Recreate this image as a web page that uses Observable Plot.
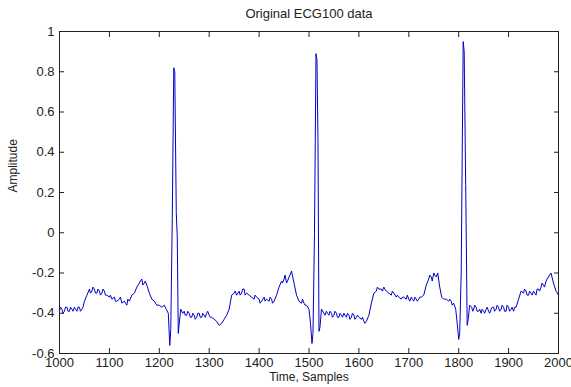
<!DOCTYPE html>
<html>
<head>
<meta charset="utf-8">
<script src="https://cdn.jsdelivr.net/npm/d3@7"></script>
<script src="https://cdn.jsdelivr.net/npm/@observablehq/plot@0.6"></script>
<style>
  html, body { margin: 0; padding: 0; background: #fff; }
  #chart svg { display: block; }
</style>
</head>
<body>
<div id="chart"></div>
<script>
const titleText = "Original ECG100 data";
const xLabel = "Time, Samples";
const yLabel = "Amplitude";
const xTicks = [1000, 1100, 1200, 1300, 1400, 1500, 1600, 1700, 1800, 1900, 2000];
const yTicks = [-0.6, -0.4, -0.2, 0, 0.2, 0.4, 0.6, 0.8, 1];

const samples = [
  1000,1005,1010,1015,1020,1025,1030,1035,1040,1045,1050,1055,1060,1065,1070,1075,1080,1085,1090,1095,
  1100,1105,1110,1115,1120,1125,1130,1135,1140,1145,1150,1155,1160,1165,1170,1175,1180,1185,1190,1195,
  1200,1205,1210,1214,1218,1221,1223,1226,1229,1231,1234,1236,1238,1240,1243,1247,1250,1255,1260,1265,
  1270,1275,1280,1285,1290,1295,1300,1305,1310,1315,1320,1325,1330,1335,1340,1345,1350,1355,1360,1365,
  1370,1375,1380,1385,1390,1395,1400,1405,1410,1415,1420,1425,1430,1435,1440,1445,1450,1455,1460,1465,
  1470,1475,1480,1485,1490,1495,1500,1503,1506,1508,1511,1514,1516,1518,1520,1522,1525,1530,1535,1540,
  1545,1550,1555,1560,1565,1570,1575,1580,1585,1590,1595,1600,1605,1610,1615,1620,1625,1630,1635,1640,
  1645,1650,1655,1660,1665,1670,1675,1680,1685,1690,1695,1700,1705,1710,1715,1720,1725,1730,1735,1740,
  1745,1750,1755,1758,1762,1766,1770,1775,1780,1785,1790,1794,1797,1800,1802,1805,1809,1811,1814,1817,
  1819,1822,1826,1830,1835,1840,1845,1850,1855,1860,1865,1870,1875,1880,1885,1890,1895,1900,1905,1910,
  1915,1920,1925,1930,1935,1940,1945,1950,1955,1960,1965,1970,1975,1980,1985,1990,1995,2000
];
const amplitude = [
  -0.39,-0.38,-0.39,-0.37,-0.39,-0.38,-0.37,-0.39,-0.37,-0.38,-0.34,-0.31,-0.28,-0.29,-0.28,-0.30,-0.29,-0.30,-0.29,-0.31,
  -0.32,-0.33,-0.32,-0.34,-0.33,-0.35,-0.34,-0.36,-0.34,-0.31,-0.30,-0.27,-0.25,-0.23,-0.25,-0.26,-0.30,-0.33,-0.34,-0.36,
  -0.36,-0.37,-0.36,-0.38,-0.40,-0.56,-0.48,0.07,0.82,0.80,0.10,-0.02,-0.50,-0.45,-0.38,-0.40,-0.39,-0.41,-0.40,-0.42,
  -0.41,-0.42,-0.40,-0.42,-0.41,-0.40,-0.41,-0.42,-0.43,-0.44,-0.46,-0.45,-0.43,-0.41,-0.38,-0.31,-0.30,-0.31,-0.29,-0.30,
  -0.28,-0.30,-0.31,-0.32,-0.33,-0.32,-0.33,-0.34,-0.32,-0.33,-0.34,-0.33,-0.34,-0.31,-0.27,-0.24,-0.23,-0.25,-0.22,-0.19,
  -0.25,-0.31,-0.34,-0.35,-0.35,-0.36,-0.38,-0.45,-0.55,-0.50,0.00,0.89,0.86,0.46,-0.49,-0.47,-0.38,-0.40,-0.39,-0.41,
  -0.40,-0.41,-0.40,-0.42,-0.41,-0.40,-0.42,-0.41,-0.42,-0.41,-0.42,-0.42,-0.43,-0.44,-0.44,-0.41,-0.35,-0.30,-0.29,-0.28,
  -0.28,-0.27,-0.29,-0.30,-0.31,-0.30,-0.32,-0.32,-0.33,-0.32,-0.33,-0.33,-0.32,-0.34,-0.33,-0.33,-0.32,-0.31,-0.26,-0.23,
  -0.22,-0.20,-0.22,-0.20,-0.27,-0.32,-0.33,-0.33,-0.34,-0.34,-0.35,-0.38,-0.45,-0.53,-0.50,-0.20,0.95,0.90,0.24,-0.46,
  -0.43,-0.36,-0.37,-0.38,-0.37,-0.39,-0.40,-0.39,-0.38,-0.39,-0.38,-0.37,-0.38,-0.37,-0.38,-0.37,-0.39,-0.37,-0.38,-0.39,
  -0.37,-0.33,-0.29,-0.30,-0.29,-0.31,-0.30,-0.29,-0.31,-0.28,-0.27,-0.26,-0.24,-0.22,-0.20,-0.25,-0.29,-0.31
];

// extra in-between readings of the jagged baseline
const detailSamples = [
  1002,1007,1012,1017,1022,1027,1032,1037,1042,1047,
  1062,1067,1072,1077,1082,1087,1092,
  1102,1112,1122,1132,1137,
  1162,1167,1172,
  1252,1257,1262,1267,1272,1277,1282,1287,1292,1297,1302,
  1352,1362,1367,1372,1392,1402,1412,1422,1427,
  1447,1452,1457,1462,1487,1492,
  1532,1537,1542,1547,1552,1557,1562,1567,1572,1577,1582,1587,1592,1597,1607,1612,
  1637,1647,1652,1667,1677,1687,1697,1702,1707,1712,1717,1722,
  1742,1747,1752,1782,1787,
  1828,1832,1837,1842,1847,1852,1857,1862,1867,1872,1877,1882,1887,1892,1897,1902,1907,1912,
  1932,1937,1942,1947,1952,1957,1962,1967,1972,1977,1982
];
const detailValues = [
  -0.37,-0.40,-0.37,-0.39,-0.37,-0.39,-0.38,-0.37,-0.39,-0.37,
  -0.30,-0.27,-0.30,-0.28,-0.31,-0.28,-0.31,
  -0.31,-0.34,-0.32,-0.35,-0.33,
  -0.24,-0.26,-0.24,
  -0.41,-0.39,-0.42,-0.40,-0.43,-0.40,-0.42,-0.40,-0.42,-0.39,-0.42,
  -0.29,-0.31,-0.28,-0.31,-0.31,-0.35,-0.34,-0.32,-0.35,
  -0.25,-0.21,-0.24,-0.21,-0.33,-0.36,
  -0.41,-0.40,-0.39,-0.42,-0.39,-0.42,-0.40,-0.42,-0.41,-0.40,-0.43,-0.40,-0.43,-0.41,-0.42,-0.45,
  -0.27,-0.29,-0.28,-0.29,-0.31,-0.32,-0.31,-0.34,-0.33,-0.32,-0.34,-0.32,
  -0.21,-0.24,-0.21,-0.33,-0.36,
  -0.39,-0.36,-0.39,-0.38,-0.38,-0.40,-0.37,-0.40,-0.37,-0.39,-0.36,-0.39,-0.36,-0.39,-0.36,-0.39,-0.37,-0.37,
  -0.28,-0.31,-0.29,-0.31,-0.30,-0.28,-0.29,-0.25,-0.27,-0.23,-0.21
];

const data = d3.sort(
  samples.map((s, i) => ({sample: s, value: amplitude[i]}))
    .concat(detailSamples.map((s, i) => ({sample: s, value: detailValues[i]}))),
  d => d.sample
);
const fmtY = d => String(+(+d).toFixed(1));

const chart = Plot.plot({
  width: 571,
  height: 387,
  marginLeft: 59,
  marginRight: 13,
  marginTop: 31,
  marginBottom: 34,
  style: {fontFamily: "Liberation Sans, Arial, sans-serif", fontSize: "13px", color: "#222", background: "#fff", overflow: "visible"},
  x: {domain: [1000, 2000]},
  y: {domain: [-0.6, 1]},
  marks: [
    Plot.line(data, {x: "sample", y: "value", stroke: "#0000c8", strokeWidth: 1}),
    Plot.frame({stroke: "#222", strokeWidth: 1}),
    Plot.axisX(xTicks, {anchor: "bottom", tickSize: -5, tickPadding: 9, label: null, tickFormat: d => String(d), fill: "#222", stroke: "#222"}),
    Plot.axisX(xTicks, {anchor: "top", tickSize: -5, label: null, tickFormat: () => "", stroke: "#222"}),
    Plot.axisY(yTicks, {anchor: "left", tickSize: -5, tickPadding: 10, label: null, tickFormat: fmtY, fill: "#222", stroke: "#222"}),
    Plot.axisY(yTicks, {anchor: "right", tickSize: -5, label: null, tickFormat: () => "", stroke: "#222"}),
    Plot.text([titleText], {frameAnchor: "top", dy: -23, fontSize: 13, fill: "#222"}),
    Plot.text([xLabel], {frameAnchor: "bottom", dy: 27, fontSize: 12, fill: "#222"}),
    Plot.text([yLabel], {frameAnchor: "left", dx: -46, rotate: -90, fontSize: 12, fill: "#222"})
  ]
});
document.getElementById("chart").appendChild(chart);
</script>
</body>
</html>
